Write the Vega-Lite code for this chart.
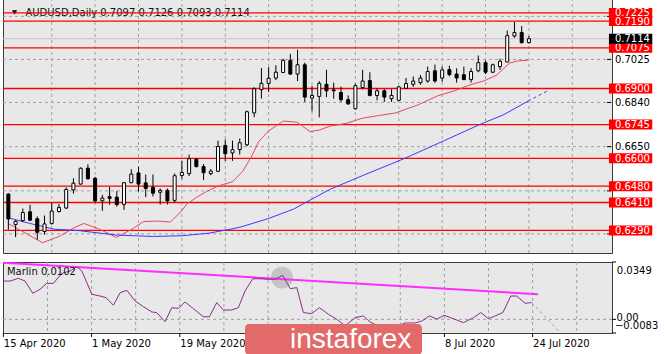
{
"$schema": "https://vega.github.io/schema/vega-lite/v6.json",
"padding": {"left": -2, "top": -3, "right": 0, "bottom": 0},
"background": "#ffffff",
"spacing": 4,
"config": {
  "view": {"stroke": "#3a3a3a", "strokeWidth": 1, "fill": "#e8e8e8"},
  "font": "DejaVu Sans"
},
"datasets": {
  "candles": [
    {"i":0,"o":0.6446,"h":0.6450,"l":0.6293,"c":0.6339},
    {"i":1,"o":0.6315,"h":0.6334,"l":0.6261,"c":0.6329},
    {"i":2,"o":0.6332,"h":0.6384,"l":0.6327,"c":0.6367},
    {"i":3,"o":0.6370,"h":0.6400,"l":0.6330,"c":0.6334},
    {"i":4,"o":0.6340,"h":0.6350,"l":0.6250,"c":0.6282},
    {"i":5,"o":0.6285,"h":0.6354,"l":0.6272,"c":0.6318},
    {"i":6,"o":0.6320,"h":0.6408,"l":0.6314,"c":0.6373},
    {"i":7,"o":0.6371,"h":0.6404,"l":0.6367,"c":0.6388},
    {"i":8,"o":0.6386,"h":0.6475,"l":0.6382,"c":0.6466},
    {"i":9,"o":0.6464,"h":0.6514,"l":0.6448,"c":0.6493},
    {"i":10,"o":0.6489,"h":0.6561,"l":0.6487,"c":0.6557},
    {"i":11,"o":0.6557,"h":0.6574,"l":0.6508,"c":0.6512},
    {"i":12,"o":0.6514,"h":0.6520,"l":0.6409,"c":0.6417},
    {"i":13,"o":0.6417,"h":0.6443,"l":0.6374,"c":0.6429},
    {"i":14,"o":0.6435,"h":0.6477,"l":0.6400,"c":0.6427},
    {"i":15,"o":0.6433,"h":0.6459,"l":0.6392,"c":0.6401},
    {"i":16,"o":0.6402,"h":0.6498,"l":0.6378,"c":0.6495},
    {"i":17,"o":0.6495,"h":0.6553,"l":0.6493,"c":0.6532},
    {"i":18,"o":0.6537,"h":0.6563,"l":0.6457,"c":0.6489},
    {"i":19,"o":0.6494,"h":0.6530,"l":0.6433,"c":0.6470},
    {"i":20,"o":0.6475,"h":0.6530,"l":0.6436,"c":0.6450},
    {"i":21,"o":0.6454,"h":0.6470,"l":0.6401,"c":0.6462},
    {"i":22,"o":0.6462,"h":0.6470,"l":0.6401,"c":0.6417},
    {"i":23,"o":0.6419,"h":0.6535,"l":0.6409,"c":0.6525},
    {"i":24,"o":0.6526,"h":0.6588,"l":0.6512,"c":0.6539},
    {"i":25,"o":0.6534,"h":0.6616,"l":0.6524,"c":0.6598},
    {"i":26,"o":0.6596,"h":0.6601,"l":0.6561,"c":0.6564},
    {"i":27,"o":0.6564,"h":0.6575,"l":0.6506,"c":0.6538},
    {"i":28,"o":0.6534,"h":0.6554,"l":0.6527,"c":0.6545},
    {"i":29,"o":0.6544,"h":0.6676,"l":0.6541,"c":0.6651},
    {"i":30,"o":0.6655,"h":0.6681,"l":0.6589,"c":0.6620},
    {"i":31,"o":0.6623,"h":0.6676,"l":0.6589,"c":0.6637},
    {"i":32,"o":0.6637,"h":0.6685,"l":0.6616,"c":0.6667},
    {"i":33,"o":0.6658,"h":0.6805,"l":0.6651,"c":0.6800},
    {"i":34,"o":0.6795,"h":0.6905,"l":0.6777,"c":0.6899},
    {"i":35,"o":0.6895,"h":0.6988,"l":0.6857,"c":0.6922},
    {"i":36,"o":0.6922,"h":0.6992,"l":0.6885,"c":0.6944},
    {"i":37,"o":0.6945,"h":0.7000,"l":0.6936,"c":0.6970},
    {"i":38,"o":0.6969,"h":0.7028,"l":0.6966,"c":0.7021},
    {"i":39,"o":0.7021,"h":0.7049,"l":0.6958,"c":0.6962},
    {"i":40,"o":0.6962,"h":0.7066,"l":0.6932,"c":0.7002},
    {"i":41,"o":0.7002,"h":0.7011,"l":0.6842,"c":0.6863},
    {"i":42,"o":0.6859,"h":0.6911,"l":0.6801,"c":0.6870},
    {"i":43,"o":0.6866,"h":0.6932,"l":0.6776,"c":0.6922},
    {"i":44,"o":0.6918,"h":0.6980,"l":0.6863,"c":0.6890},
    {"i":45,"o":0.6894,"h":0.6925,"l":0.6856,"c":0.6890},
    {"i":46,"o":0.6883,"h":0.6908,"l":0.6842,"c":0.6852},
    {"i":47,"o":0.6852,"h":0.6870,"l":0.6829,"c":0.6834},
    {"i":48,"o":0.6813,"h":0.6921,"l":0.6809,"c":0.6912},
    {"i":49,"o":0.6904,"h":0.6980,"l":0.6897,"c":0.6932},
    {"i":50,"o":0.6934,"h":0.6970,"l":0.6866,"c":0.6870},
    {"i":51,"o":0.6870,"h":0.6900,"l":0.6849,"c":0.6890},
    {"i":52,"o":0.6890,"h":0.6897,"l":0.6842,"c":0.6863},
    {"i":53,"o":0.6856,"h":0.6897,"l":0.6842,"c":0.6870},
    {"i":54,"o":0.6849,"h":0.6912,"l":0.6846,"c":0.6907},
    {"i":55,"o":0.6901,"h":0.6945,"l":0.6897,"c":0.6921},
    {"i":56,"o":0.6918,"h":0.6952,"l":0.6907,"c":0.6932},
    {"i":57,"o":0.6925,"h":0.6958,"l":0.6916,"c":0.6945},
    {"i":58,"o":0.6932,"h":0.6994,"l":0.6925,"c":0.6973},
    {"i":59,"o":0.6976,"h":0.7003,"l":0.6925,"c":0.6932},
    {"i":60,"o":0.6945,"h":0.6994,"l":0.6929,"c":0.6980},
    {"i":61,"o":0.6981,"h":0.6998,"l":0.6952,"c":0.6960},
    {"i":62,"o":0.6962,"h":0.6987,"l":0.6925,"c":0.6945},
    {"i":63,"o":0.6959,"h":0.6994,"l":0.6937,"c":0.6938},
    {"i":64,"o":0.6938,"h":0.6987,"l":0.6925,"c":0.6973},
    {"i":65,"o":0.6976,"h":0.7042,"l":0.6970,"c":0.7011},
    {"i":66,"o":0.7011,"h":0.7021,"l":0.6962,"c":0.6970},
    {"i":67,"o":0.6970,"h":0.7007,"l":0.6966,"c":0.7002},
    {"i":68,"o":0.6994,"h":0.7028,"l":0.6980,"c":0.7017},
    {"i":69,"o":0.7014,"h":0.7149,"l":0.7013,"c":0.7127},
    {"i":70,"o":0.7125,"h":0.7186,"l":0.7118,"c":0.7141},
    {"i":71,"o":0.7141,"h":0.7168,"l":0.7093,"c":0.7097},
    {"i":72,"o":0.7097,"h":0.7126,"l":0.7093,"c":0.7114}
  ],
  "levels": [
    {"level":0.6290},{"level":0.6410},{"level":0.6480},{"level":0.6600},{"level":0.6745},
    {"level":0.6900},{"level":0.7075},{"level":0.7190},{"level":0.7225}
  ],
  "bid": [{"level":0.7114}],
  "ygrid": [{"level":0.7210},{"level":0.7025},{"level":0.6840},{"level":0.6650},{"level":0.6460},{"level":0.6275}],
  "ylabels": [{"level":0.7025},{"level":0.6840},{"level":0.6650}],
  "xgrid": [{"i":6},{"i":12},{"i":18},{"i":24},{"i":30},{"i":36},{"i":42},{"i":48},{"i":54},{"i":60},{"i":66},{"i":72},{"i":78}],
  "xlabels": [
    {"i":0,"label":"15 Apr 2020"},{"i":12,"label":"1 May 2020"},{"i":24,"label":"19 May 2020"},
    {"i":36,"label":"4 Jun 2020"},{"i":48,"label":"22 Jun 2020"},{"i":60,"label":"8 Jul 2020"},{"i":72,"label":"24 Jul 2020"}
  ],
  "vticks": [{"v":0.0349},{"v":0},{"v":-0.0083}],
  "header": [{"label":"AUDUSD,Daily 0.7097 0.7126 0.7093 0.7114"}],
  "redma": [
    {"i":0,"v":0.6319},{"i":2.27,"v":0.6280},{"i":4.72,"v":0.6237},{"i":7.03,"v":0.6264},{"i":9.07,"v":0.6301},
    {"i":10.44,"v":0.6320},{"i":12.48,"v":0.6297},{"i":14.93,"v":0.6260},{"i":16.97,"v":0.6293},{"i":18.73,"v":0.6328},
    {"i":20.64,"v":0.6330},{"i":22.41,"v":0.6326},{"i":23.77,"v":0.6367},{"i":24.72,"v":0.6404},{"i":26.08,"v":0.6433},
    {"i":27.44,"v":0.6458},{"i":29.21,"v":0.6483},{"i":30.98,"v":0.6499},{"i":32.34,"v":0.6541},{"i":33.56,"v":0.6603},
    {"i":34.65,"v":0.6673},{"i":36.01,"v":0.6718},{"i":38.05,"v":0.6760},{"i":39.96,"v":0.6755},{"i":41.73,"v":0.6714},
    {"i":43.09,"v":0.6722},{"i":44.45,"v":0.6738},{"i":46.76,"v":0.6750},{"i":48.94,"v":0.6772},{"i":51.25,"v":0.6784},
    {"i":53.56,"v":0.6795},{"i":56.7,"v":0.6830},{"i":59.42,"v":0.6869},{"i":61.73,"v":0.6890},{"i":63.91,"v":0.6916},
    {"i":65.81,"v":0.6933},{"i":67.58,"v":0.6958},{"i":68.53,"v":0.6987},{"i":69.35,"v":0.7009},{"i":70.3,"v":0.7018},
    {"i":71.9,"v":0.7022}
  ],
  "bluema": [
    {"i":0,"v":0.6344},{"i":2.95,"v":0.6320},{"i":6.35,"v":0.6295},{"i":9.76,"v":0.6289},{"i":12.75,"v":0.6278},
    {"i":14.93,"v":0.6270},{"i":19.96,"v":0.6264},{"i":24.04,"v":0.6267},{"i":27.71,"v":0.6278},{"i":30.84,"v":0.6296},
    {"i":32.2,"v":0.6305},{"i":35.88,"v":0.6340},{"i":39.41,"v":0.6381},{"i":44.45,"v":0.6466},{"i":48.94,"v":0.6525},
    {"i":54.93,"v":0.6601},{"i":60.37,"v":0.6677},{"i":65.27,"v":0.6746},{"i":68.49,"v":0.6787},{"i":71.89,"v":0.6846}
  ],
  "bluedash": [{"i":71.89,"v":0.6846},{"i":74.6,"v":0.6890}],
  "marlin": [
    {"i":0,"v":0.0233},{"i":0.91,"v":0.0233},{"i":2.04,"v":0.0250},{"i":2.95,"v":0.0233},{"i":4.0,"v":0.0159},
    {"i":4.99,"v":0.0183},{"i":5.9,"v":0.0219},{"i":6.8,"v":0.0219},{"i":7.95,"v":0.0280},{"i":9.07,"v":0.0294},
    {"i":9.99,"v":0.0320},{"i":10.67,"v":0.0294},{"i":12.03,"v":0.0153},{"i":13.16,"v":0.0142},{"i":13.97,"v":0.0132},
    {"i":14.97,"v":0.0086},{"i":15.88,"v":0.0162},{"i":16.79,"v":0.0177},{"i":17.92,"v":0.0112},{"i":19.05,"v":0.0077},
    {"i":20.19,"v":0.0045},{"i":20.87,"v":0.0041},{"i":22.0,"v":-0.0014},{"i":22.91,"v":0.0071},{"i":23.81,"v":0.0067},
    {"i":24.72,"v":0.0106},{"i":25.85,"v":0.0065},{"i":27.21,"v":0.0016},{"i":28.03,"v":0.0016},{"i":29.03,"v":0.0102},
    {"i":29.93,"v":0.0057},{"i":31.07,"v":0.0057},{"i":31.97,"v":0.0071},{"i":32.88,"v":0.0173},{"i":33.93,"v":0.0247},
    {"i":34.93,"v":0.0247},{"i":35.84,"v":0.0244},{"i":36.97,"v":0.0244},{"i":38.01,"v":0.0268},{"i":39.01,"v":0.0187},
    {"i":39.92,"v":0.0193},{"i":40.82,"v":0.0041},{"i":41.96,"v":0.0035},{"i":42.99,"v":0.0071},{"i":44.22,"v":0.0031},
    {"i":45.36,"v":0.0001},{"i":46.49,"v":-0.0040},{"i":47.85,"v":0.0010},{"i":48.98,"v":0.0021},{"i":49.89,"v":-0.0016},
    {"i":51.25,"v":-0.0046},{"i":53.29,"v":-0.0046},{"i":54.65,"v":-0.0022},{"i":56.01,"v":-0.0022},{"i":56.93,"v":-0.0010},
    {"i":57.96,"v":0.0021},{"i":58.97,"v":0.0001},{"i":59.96,"v":0.0025},{"i":61.22,"v":0.0004},{"i":62.59,"v":-0.0020},
    {"i":63.95,"v":0.0010},{"i":64.95,"v":0.0041},{"i":65.99,"v":0.0004},{"i":66.9,"v":0.0021},{"i":67.95,"v":0.0041},
    {"i":69.03,"v":0.0142},{"i":69.84,"v":0.0142},{"i":70.97,"v":0.0098},{"i":71.88,"v":0.0102}
  ],
  "marlindash": [{"i":71.88,"v":0.0102},{"i":75.74,"v":-0.0081}],
  "trend": [{"i":0,"v":0.0345},{"i":72.75,"v":0.0153}],
  "highlight": [{"i":37.9,"v":0.0254}],
  "marlinlabel": [{"label":"Marlin 0.0102"}],
  "logo": [{"label":"instaforex"}]
},
"vconcat": [
  {
    "width": 609, "height": 255,
    "layer": [
      {"data":{"name":"xgrid"},"mark":{"type":"rule","color":"#a0a0a0","strokeWidth":1,"strokeDash":[3,3]},
       "encoding":{"x":{"field":"i","type":"quantitative","scale":{"domain":[-0.05,82.8],"nice":false,"zero":false},"axis":null}}},
      {"data":{"name":"ygrid"},"mark":{"type":"rule","color":"#a0a0a0","strokeWidth":1,"strokeDash":[3,3]},
       "encoding":{"y":{"field":"level","type":"quantitative","scale":{"domain":[0.62143,0.72675],"nice":false,"zero":false},"axis":null}}},
      {"data":{"name":"bid"},"mark":{"type":"rule","color":"#c4c4c4","strokeWidth":1},
       "encoding":{"y":{"field":"level","type":"quantitative","scale":{"domain":[0.62143,0.72675],"nice":false,"zero":false},"axis":null}}},
      {"data":{"name":"header"},"mark":{"type":"text","align":"left","baseline":"middle","fontSize":10,"color":"#111111","font":"DejaVu Sans"},
       "encoding":{"x":{"datum":2.36,"type":"quantitative","scale":{"domain":[-0.05,82.8],"nice":false,"zero":false},"axis":null},
                   "y":{"datum":0.7226,"type":"quantitative","scale":{"domain":[0.62143,0.72675],"nice":false,"zero":false},"axis":null},
                   "text":{"field":"label"}}},
      {"data":{"name":"header"},"mark":{"type":"point","shape":"triangle-down","filled":true,"color":"#000000","size":26,"opacity":1},
       "encoding":{"x":{"datum":0.86,"type":"quantitative","scale":{"domain":[-0.05,82.8],"nice":false,"zero":false},"axis":null},
                   "y":{"datum":0.7227,"type":"quantitative","scale":{"domain":[0.62143,0.72675],"nice":false,"zero":false},"axis":null}}},
      {"data":{"name":"levels"},"mark":{"type":"rule","color":"#ff0000","strokeWidth":1.3},
       "encoding":{"y":{"field":"level","type":"quantitative","scale":{"domain":[0.62143,0.72675],"nice":false,"zero":false},"axis":null}}},
      {"data":{"name":"redma"},"mark":{"type":"line","color":"#e8475f","strokeWidth":1},
       "encoding":{"x":{"field":"i","type":"quantitative","scale":{"domain":[-0.05,82.8],"nice":false,"zero":false},"axis":null},
                   "y":{"field":"v","type":"quantitative","scale":{"domain":[0.62143,0.72675],"nice":false,"zero":false},"axis":null}}},
      {"data":{"name":"bluema"},"mark":{"type":"line","color":"#3a3aff","strokeWidth":1},
       "encoding":{"x":{"field":"i","type":"quantitative","scale":{"domain":[-0.05,82.8],"nice":false,"zero":false},"axis":null},
                   "y":{"field":"v","type":"quantitative","scale":{"domain":[0.62143,0.72675],"nice":false,"zero":false},"axis":null}}},
      {"data":{"name":"bluedash"},"mark":{"type":"line","color":"#3a3aff","strokeWidth":1,"strokeDash":[3,3]},
       "encoding":{"x":{"field":"i","type":"quantitative","scale":{"domain":[-0.05,82.8],"nice":false,"zero":false},"axis":null},
                   "y":{"field":"v","type":"quantitative","scale":{"domain":[0.62143,0.72675],"nice":false,"zero":false},"axis":null}}},
      {"data":{"name":"candles"},"mark":{"type":"rule","color":"#000000","strokeWidth":1},
       "encoding":{"x":{"field":"i","type":"quantitative","scale":{"domain":[-0.05,82.8],"nice":false,"zero":false},"axis":null},
                   "y":{"field":"l","type":"quantitative","scale":{"domain":[0.62143,0.72675],"nice":false,"zero":false},"axis":null},
                   "y2":{"field":"h"}}},
      {"data":{"name":"candles"},"mark":{"type":"bar","width":3,"stroke":"#000000","strokeWidth":1,"orient":"vertical","clip":true},
       "encoding":{"x":{"field":"i","type":"quantitative","scale":{"domain":[-0.05,82.8],"nice":false,"zero":false},"axis":null},
                   "y":{"field":"o","type":"quantitative","scale":{"domain":[0.62143,0.72675],"nice":false,"zero":false},"axis":null},
                   "y2":{"field":"c"},
                   "fill":{"condition":{"test":"datum.c >= datum.o","value":"#ffffff"},"value":"#000000"}}},
      {"data":{"name":"ygrid"},"mark":{"type":"rule","color":"#000000","strokeWidth":1},
       "encoding":{"x":{"datum":82.8,"type":"quantitative","scale":{"domain":[-0.05,82.8],"nice":false,"zero":false},"axis":null},
                   "x2":{"datum":83.35},
                   "y":{"field":"level","type":"quantitative","scale":{"domain":[0.62143,0.72675],"nice":false,"zero":false},"axis":null}}},
      {"data":{"name":"ylabels"},"mark":{"type":"text","align":"left","baseline":"middle","fontSize":10,"color":"#000000","font":"DejaVu Sans","dy":0.5},
       "encoding":{"x":{"datum":83.89,"type":"quantitative","scale":{"domain":[-0.05,82.8],"nice":false,"zero":false},"axis":null},
                   "y":{"field":"level","type":"quantitative","scale":{"domain":[0.62143,0.72675],"nice":false,"zero":false},"axis":null},
                   "text":{"field":"level","type":"quantitative","format":".4f"}}},
      {"data":{"name":"levels"},"mark":{"type":"bar","orient":"horizontal","height":10,"color":"#ff0000"},
       "encoding":{"x":{"datum":83.07,"type":"quantitative","scale":{"domain":[-0.05,82.8],"nice":false,"zero":false},"axis":null},
                   "x2":{"datum":89.06},
                   "y":{"field":"level","type":"quantitative","scale":{"domain":[0.62143,0.72675],"nice":false,"zero":false},"axis":null}}},
      {"data":{"name":"levels"},"mark":{"type":"text","align":"left","baseline":"middle","fontSize":10,"color":"#ffffff","font":"DejaVu Sans","dy":0.5},
       "encoding":{"x":{"datum":83.89,"type":"quantitative","scale":{"domain":[-0.05,82.8],"nice":false,"zero":false},"axis":null},
                   "y":{"field":"level","type":"quantitative","scale":{"domain":[0.62143,0.72675],"nice":false,"zero":false},"axis":null},
                   "text":{"field":"level","type":"quantitative","format":".4f"}}},
      {"data":{"name":"bid"},"mark":{"type":"bar","orient":"horizontal","height":10,"color":"#000000"},
       "encoding":{"x":{"datum":83.07,"type":"quantitative","scale":{"domain":[-0.05,82.8],"nice":false,"zero":false},"axis":null},
                   "x2":{"datum":89.06},
                   "y":{"field":"level","type":"quantitative","scale":{"domain":[0.62143,0.72675],"nice":false,"zero":false},"axis":null}}},
      {"data":{"name":"bid"},"mark":{"type":"text","align":"left","baseline":"middle","fontSize":10,"color":"#ffffff","font":"DejaVu Sans","dy":0.5},
       "encoding":{"x":{"datum":83.89,"type":"quantitative","scale":{"domain":[-0.05,82.8],"nice":false,"zero":false},"axis":null},
                   "y":{"field":"level","type":"quantitative","scale":{"domain":[0.62143,0.72675],"nice":false,"zero":false},"axis":null},
                   "text":{"field":"level","type":"quantitative","format":".4f"}}}
    ]
  },
  {
    "width": 609, "height": 71,
    "layer": [
      {"data":{"name":"xgrid"},"mark":{"type":"rule","color":"#a0a0a0","strokeWidth":1,"strokeDash":[3,3]},
       "encoding":{"x":{"field":"i","type":"quantitative","scale":{"domain":[-0.05,82.8],"nice":false,"zero":false},"axis":null}}},
      {"data":{"name":"vticks"},"transform":[{"filter":"datum.v == 0"}],"mark":{"type":"rule","color":"#a0a0a0","strokeWidth":1,"strokeDash":[3,3]},
       "encoding":{"y":{"field":"v","type":"quantitative","scale":{"domain":[-0.0083,0.0349],"nice":false,"zero":false},"axis":null}}},
      {"data":{"name":"highlight"},"mark":{"type":"circle","color":"#9a9a9a","opacity":0.45,"size":480},
       "encoding":{"x":{"field":"i","type":"quantitative","scale":{"domain":[-0.05,82.8],"nice":false,"zero":false},"axis":null},
                   "y":{"field":"v","type":"quantitative","scale":{"domain":[-0.0083,0.0349],"nice":false,"zero":false},"axis":null}}},
      {"data":{"name":"trend"},"mark":{"type":"line","color":"#ff2dff","strokeWidth":2},
       "encoding":{"x":{"field":"i","type":"quantitative","scale":{"domain":[-0.05,82.8],"nice":false,"zero":false},"axis":null},
                   "y":{"field":"v","type":"quantitative","scale":{"domain":[-0.0083,0.0349],"nice":false,"zero":false},"axis":null}}},
      {"data":{"name":"marlin"},"mark":{"type":"line","color":"#8e2a8e","strokeWidth":1},
       "encoding":{"x":{"field":"i","type":"quantitative","scale":{"domain":[-0.05,82.8],"nice":false,"zero":false},"axis":null},
                   "y":{"field":"v","type":"quantitative","scale":{"domain":[-0.0083,0.0349],"nice":false,"zero":false},"axis":null}}},
      {"data":{"name":"marlindash"},"mark":{"type":"line","color":"#b07fdc","strokeWidth":1,"strokeDash":[3,3]},
       "encoding":{"x":{"field":"i","type":"quantitative","scale":{"domain":[-0.05,82.8],"nice":false,"zero":false},"axis":null},
                   "y":{"field":"v","type":"quantitative","scale":{"domain":[-0.0083,0.0349],"nice":false,"zero":false},"axis":null}}},
      {"data":{"name":"marlinlabel"},"mark":{"type":"text","align":"left","baseline":"middle","fontSize":10,"color":"#111111","font":"DejaVu Sans"},
       "encoding":{"x":{"datum":0.49,"type":"quantitative","scale":{"domain":[-0.05,82.8],"nice":false,"zero":false},"axis":null},
                   "y":{"datum":0.0290,"type":"quantitative","scale":{"domain":[-0.0083,0.0349],"nice":false,"zero":false},"axis":null},
                   "text":{"field":"label"}}},
      {"data":{"name":"vticks"},"mark":{"type":"rule","color":"#000000","strokeWidth":1},
       "encoding":{"x":{"datum":82.8,"type":"quantitative","scale":{"domain":[-0.05,82.8],"nice":false,"zero":false},"axis":null},
                   "x2":{"datum":83.35},
                   "y":{"field":"v","type":"quantitative","scale":{"domain":[-0.0083,0.0349],"nice":false,"zero":false},"axis":null}}},
      {"data":{"name":"vticks"},"transform":[{"filter":"datum.v > 0"}],"mark":{"type":"text","align":"left","baseline":"middle","fontSize":10,"color":"#000000","font":"DejaVu Sans","dy":8.5},
       "encoding":{"x":{"datum":83.45,"type":"quantitative","scale":{"domain":[-0.05,82.8],"nice":false,"zero":false},"axis":null},
                   "y":{"field":"v","type":"quantitative","scale":{"domain":[-0.0083,0.0349],"nice":false,"zero":false},"axis":null},
                   "text":{"field":"v","type":"quantitative","format":".4f"}}},
      {"data":{"name":"vticks"},"transform":[{"filter":"datum.v == 0"}],"mark":{"type":"text","align":"left","baseline":"middle","fontSize":10,"color":"#000000","font":"DejaVu Sans","dy":-1},
       "encoding":{"x":{"datum":83.4,"type":"quantitative","scale":{"domain":[-0.05,82.8],"nice":false,"zero":false},"axis":null},
                   "y":{"field":"v","type":"quantitative","scale":{"domain":[-0.0083,0.0349],"nice":false,"zero":false},"axis":null},
                   "text":{"field":"v","type":"quantitative","format":".2f"}}},
      {"data":{"name":"vticks"},"transform":[{"filter":"datum.v < 0"}],"mark":{"type":"text","align":"left","baseline":"middle","fontSize":10,"color":"#000000","font":"DejaVu Sans","dy":-7},
       "encoding":{"x":{"datum":83.2,"type":"quantitative","scale":{"domain":[-0.05,82.8],"nice":false,"zero":false},"axis":null},
                   "y":{"field":"v","type":"quantitative","scale":{"domain":[-0.0083,0.0349],"nice":false,"zero":false},"axis":null},
                   "text":{"field":"v","type":"quantitative","format":".4f"}}},
      {"data":{"name":"xlabels"},"mark":{"type":"rule","color":"#000000","strokeWidth":1},
       "encoding":{"x":{"field":"i","type":"quantitative","scale":{"domain":[-0.05,82.8],"nice":false,"zero":false},"axis":null},
                   "y":{"datum":-0.0083,"type":"quantitative","scale":{"domain":[-0.0083,0.0349],"nice":false,"zero":false},"axis":null},
                   "y2":{"datum":-0.0107}}},
      {"data":{"name":"xlabels"},"mark":{"type":"text","align":"left","baseline":"top","fontSize":10,"color":"#000000","font":"DejaVu Sans","dx":0.5},
       "encoding":{"x":{"field":"i","type":"quantitative","scale":{"domain":[-0.05,82.8],"nice":false,"zero":false},"axis":null},
                   "y":{"datum":-0.0119,"type":"quantitative","scale":{"domain":[-0.0083,0.0349],"nice":false,"zero":false},"axis":null},
                   "text":{"field":"label"}}},
      {"data":{"name":"logo"},"mark":{"type":"bar","color":"#e36a6a","cornerRadius":4},
       "encoding":{"x":{"datum":32.87,"type":"quantitative","scale":{"domain":[-0.05,82.8],"nice":false,"zero":false},"axis":null},
                   "x2":{"datum":56.95},
                   "y":{"datum":-0.0028,"type":"quantitative","scale":{"domain":[-0.0083,0.0349],"nice":false,"zero":false},"axis":null},
                   "y2":{"datum":-0.0216}}},
      {"data":{"name":"logo"},"mark":{"type":"text","align":"left","baseline":"alphabetic","fontSize":28,"color":"#ffffff","font":"Liberation Sans"},
       "encoding":{"x":{"datum":39.0,"type":"quantitative","scale":{"domain":[-0.05,82.8],"nice":false,"zero":false},"axis":null},
                   "y":{"datum":-0.0174,"type":"quantitative","scale":{"domain":[-0.0083,0.0349],"nice":false,"zero":false},"axis":null},
                   "text":{"field":"label"}}}
    ]
  }
]
}
